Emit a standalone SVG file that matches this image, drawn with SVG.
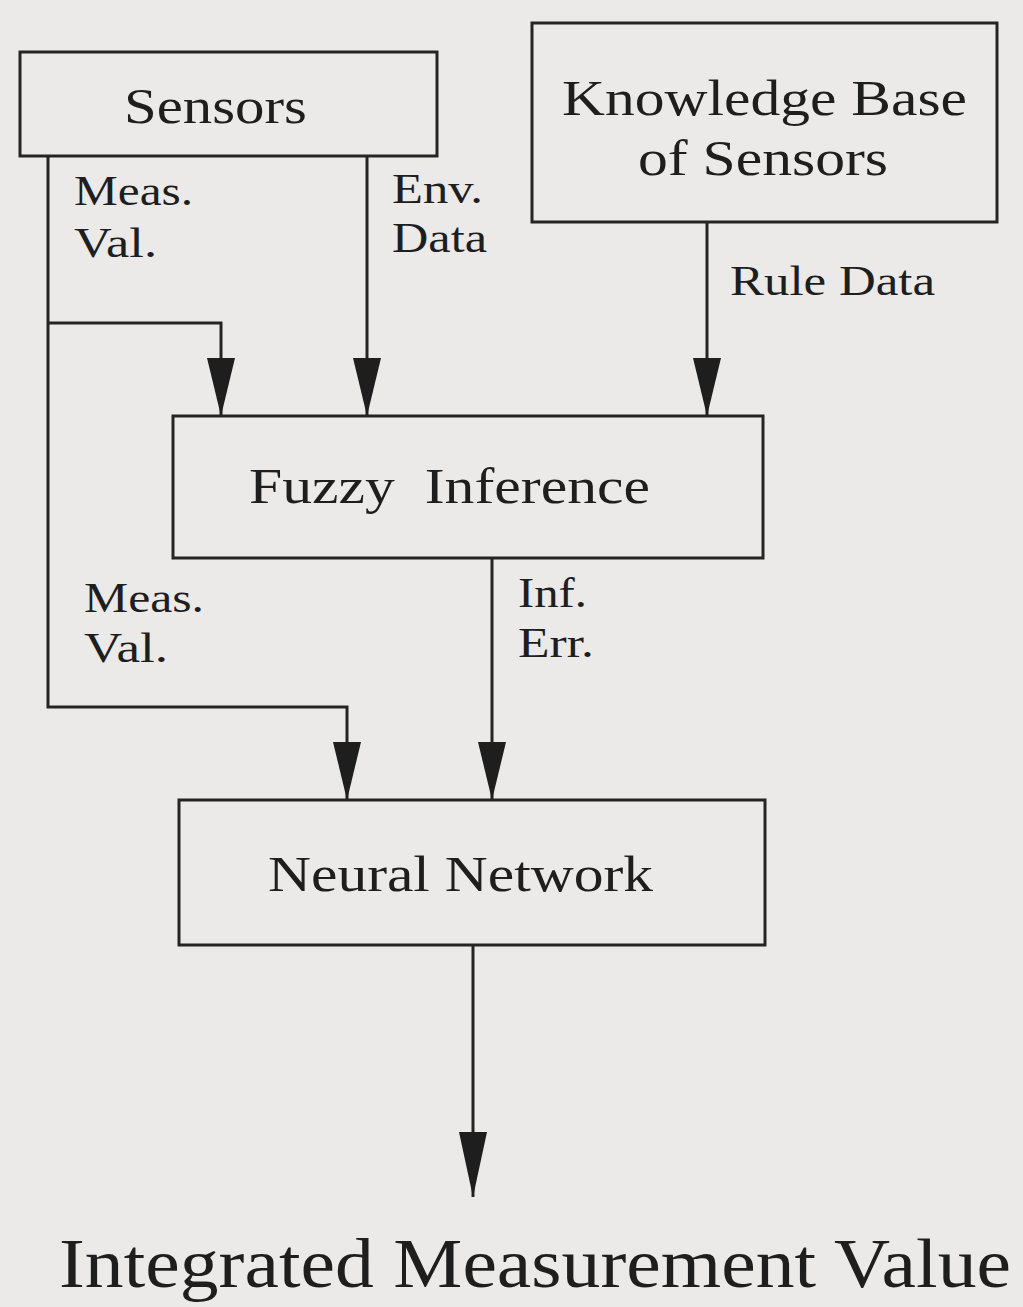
<svg xmlns="http://www.w3.org/2000/svg" width="1023" height="1307" viewBox="0 0 1023 1307">
<style>
.box{fill:none;stroke:#242424;stroke-width:3}
.con{fill:none;stroke:#242424;stroke-width:3}
.t{font-family:"Liberation Serif","Times New Roman",serif;fill:#1e1e1e}
.big{font-size:50px}
.lbl{font-size:43px}
</style>
<defs>
<marker id="ah" viewBox="0 0 58 30" refX="58" refY="15" markerWidth="58" markerHeight="30" markerUnits="userSpaceOnUse" orient="auto">
<path d="M0,1 L58,15 L0,29 z" fill="#1e1e1e"/>
</marker>
<marker id="ah2" viewBox="0 0 65 30" refX="65" refY="15" markerWidth="65" markerHeight="30" markerUnits="userSpaceOnUse" orient="auto">
<path d="M0,1 L65,15 L0,29 z" fill="#1e1e1e"/>
</marker>
</defs>
<rect x="0" y="0" width="1023" height="1307" fill="#ebeae9"/>
<g id="connectors">
<path class="con" d="M48,156 V707 H347 V800" marker-end="url(#ah)"/>
<path class="con" d="M48,323 H221 V416" marker-end="url(#ah)"/>
<path class="con" d="M367,156 V416" marker-end="url(#ah)"/>
<path class="con" d="M707,222 V416" marker-end="url(#ah)"/>
<path class="con" d="M492,558 V800" marker-end="url(#ah)"/>
<path class="con" d="M473,945 V1197" marker-end="url(#ah2)"/>
<text class="t lbl" x="74" y="205" textLength="119" lengthAdjust="spacingAndGlyphs">Meas.</text>
<text class="t lbl" x="74" y="257" textLength="83" lengthAdjust="spacingAndGlyphs">Val.</text>
<text class="t lbl" x="392" y="203" textLength="91" lengthAdjust="spacingAndGlyphs">Env.</text>
<text class="t lbl" x="392" y="252" textLength="95" lengthAdjust="spacingAndGlyphs">Data</text>
<text class="t lbl" x="730" y="295" textLength="205" lengthAdjust="spacingAndGlyphs">Rule Data</text>
<text class="t lbl" x="84" y="612" textLength="120" lengthAdjust="spacingAndGlyphs">Meas.</text>
<text class="t lbl" x="84" y="662" textLength="84" lengthAdjust="spacingAndGlyphs">Val.</text>
<text class="t lbl" x="518" y="607" textLength="69" lengthAdjust="spacingAndGlyphs">Inf.</text>
<text class="t lbl" x="518" y="657" textLength="76" lengthAdjust="spacingAndGlyphs">Err.</text>
</g>
<g id="sensors">
<rect class="box" x="20" y="52" width="417" height="104"/>
<text class="t big" x="124" y="123" textLength="183" lengthAdjust="spacingAndGlyphs">Sensors</text>
</g>
<g id="knowledge-base">
<rect class="box" x="532" y="23" width="465" height="199"/>
<text class="t big" x="562" y="115" textLength="405" lengthAdjust="spacingAndGlyphs">Knowledge Base</text>
<text class="t big" x="638" y="175" textLength="250" lengthAdjust="spacingAndGlyphs">of Sensors</text>
</g>
<g id="fuzzy-inference">
<rect class="box" x="173" y="416" width="590" height="142"/>
<text class="t big" x="249" y="503" textLength="401" lengthAdjust="spacingAndGlyphs" xml:space="preserve">Fuzzy  Inference</text>
</g>
<g id="neural-network">
<rect class="box" x="179" y="800" width="586" height="145"/>
<text class="t big" x="268" y="891" textLength="385" lengthAdjust="spacingAndGlyphs">Neural Network</text>
</g>
<g id="output">
<text class="t" font-size="70" x="59" y="1287" textLength="952" lengthAdjust="spacingAndGlyphs">Integrated Measurement Value</text>
</g>
</svg>
